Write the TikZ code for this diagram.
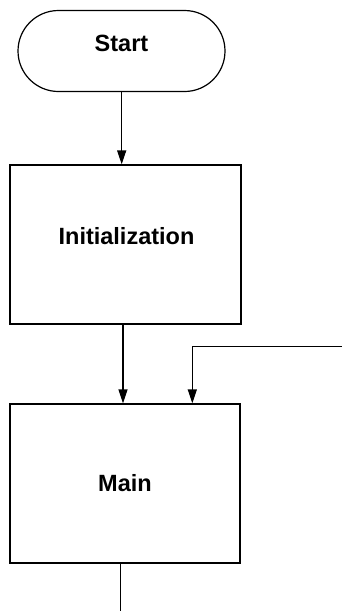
\documentclass[tikz,border=0pt]{standalone}
\usepackage{fontspec}
\setmainfont{Liberation Sans}
\usetikzlibrary{arrows.meta,shapes.misc}
\begin{document}
\begin{tikzpicture}[x=1pt,y=-1pt,
  line width=1.2pt,
  flowarrow/.style={-{Triangle[width=9pt,length=14pt]}},
  boxshape/.style={draw, minimum width=231pt, minimum height=159pt, inner sep=0pt},
  termshape/.style={draw, rounded rectangle, minimum width=207pt, minimum height=81pt, inner sep=0pt},
  lbl/.style={font=\fontsize{23.5}{26}\selectfont\bfseries, inner sep=0pt}
]
\useasboundingbox (0,0) rectangle (342,611);
\node[termshape] (start) at (121.5,51) {};
\node[lbl] (startlbl) at (121.5,43) {Start};
\node[boxshape] (init) at (125.5,244.5) {};
\node[lbl] (initlbl) at (126.5,236.5) {Initialization};
\node[boxshape, minimum width=230pt] (main) at (125,483.5) {};
\node[lbl] (mainlbl) at (125,483) {Main};
\coordinate (a1x) at (121.7,0);
\coordinate (a2x) at (123,0);
\coordinate (fbin) at (342,346.7);
\coordinate (fbcorner) at (192.3,346.7);
\coordinate (botend) at (120.7,611);
\draw[flowarrow] (start.south -| a1x) -- (init.north -| a1x);
\draw[flowarrow] (init.south -| a2x) -- (main.north -| a2x);
\draw[flowarrow] (fbin) -- (fbcorner) -- (main.north -| fbcorner);
\draw (main.south -| botend) -- (botend);
\end{tikzpicture}
\end{document}
